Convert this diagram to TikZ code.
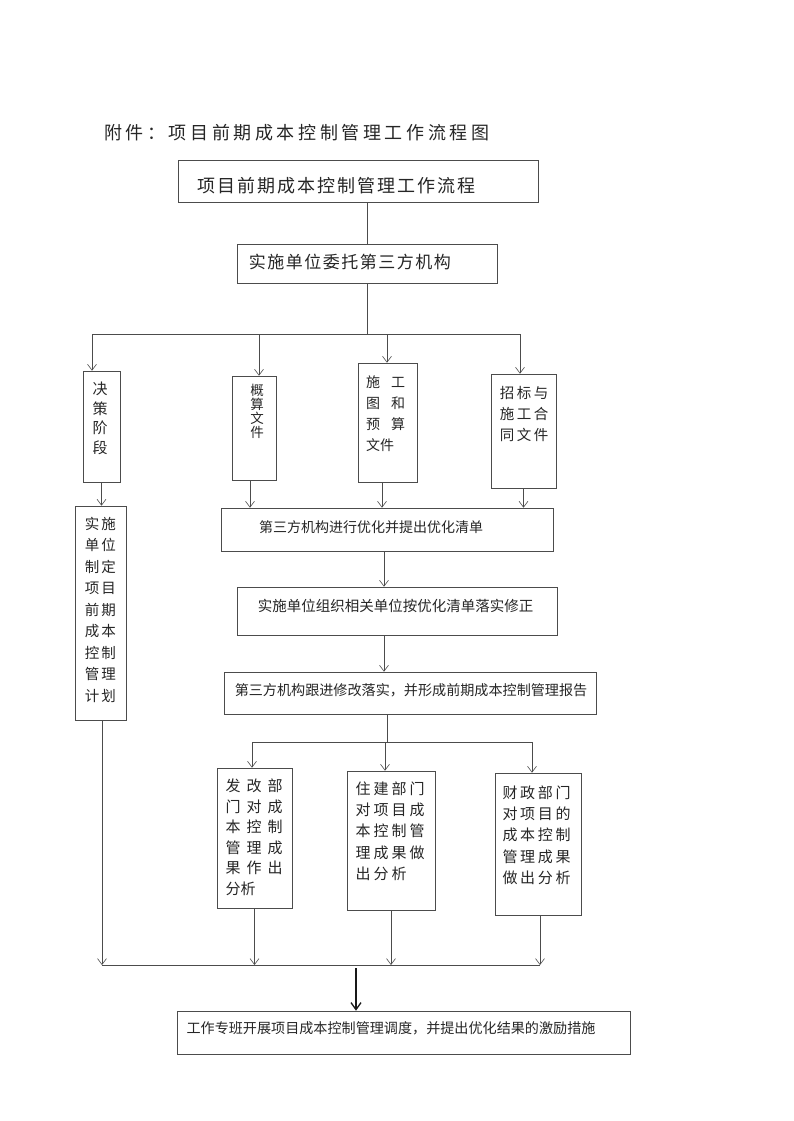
\documentclass[tikz,border=0pt]{standalone}
\usepackage{fontspec}
\setmainfont{Noto Sans CJK SC}
\usetikzlibrary{arrows.meta}
\newlength\cpitch
\newcommand\cb[1]{\makebox[\cpitch]{#1}}
\begin{document}
\begin{tikzpicture}[x=1pt,y=-1pt,
  box/.style={draw=black!70, line width=0.6pt, inner sep=0pt},
  ln/.style={draw=black!70, line width=0.6pt},
  arr/.style={draw=black!70, line width=0.6pt, -{Straight Barb[length=6pt,width=9pt]}},
  bigarr/.style={draw=black!90, line width=1.3pt, -{Straight Barb[length=7pt,width=10pt]}},
  txt/.style={inner sep=0pt, text=black!85, align=left}]
\fill[white] (0,0) rectangle (793,1121);
\useasboundingbox (0,0) rectangle (793,1121);

% title
\node[txt, anchor=west, font=\fontsize{18}{20}\selectfont] (title) at (102,133)
 {\global\cpitch=21.6pt\cb{附}\cb{件}\cb{：}\cb{项}\cb{目}\cb{前}\cb{期}\cb{成}\cb{本}\cb{控}\cb{制}\cb{管}\cb{理}\cb{工}\cb{作}\cb{流}\cb{程}\cb{图}};

% boxes
\node[box, minimum width=360pt, minimum height=42pt] (b1) at (358,181) {};
\node[box, minimum width=260pt, minimum height=39pt] (b2) at (367,263.5) {};
\node[box, minimum width=37pt, minimum height=111pt] (d1) at (101.5,426.5) {};
\node[box, minimum width=44pt, minimum height=104pt] (d2) at (254,428) {};
\node[box, minimum width=59pt, minimum height=119pt] (d3) at (387.5,422.5) {};
\node[box, minimum width=65pt, minimum height=114pt] (d4) at (523.5,431) {};
\node[box, minimum width=332pt, minimum height=43pt] (e1) at (387,529.5) {};
\node[box, minimum width=51pt, minimum height=214pt] (lp) at (100.5,613) {};
\node[box, minimum width=320pt, minimum height=48pt] (e2) at (397,611) {};
\node[box, minimum width=372pt, minimum height=42pt] (e3) at (410,693) {};
\node[box, minimum width=75pt, minimum height=140pt] (f1) at (254.5,838) {};
\node[box, minimum width=88pt, minimum height=139pt] (f2) at (391,840.5) {};
\node[box, minimum width=86pt, minimum height=142pt] (f3) at (538,844) {};
\node[box, minimum width=453pt, minimum height=43pt] (g) at (403.5,1032.5) {};

% texts
\node[txt, anchor=west, font=\fontsize{18}{20}\selectfont] (tb1) at (196,186)
 {\global\cpitch=20pt\cb{项}\cb{目}\cb{前}\cb{期}\cb{成}\cb{本}\cb{控}\cb{制}\cb{管}\cb{理}\cb{工}\cb{作}\cb{流}\cb{程}};
\node[txt, anchor=west, font=\fontsize{17}{19}\selectfont] (tb2) at (248,262)
 {\global\cpitch=18.5pt\cb{实}\cb{施}\cb{单}\cb{位}\cb{委}\cb{托}\cb{第}\cb{三}\cb{方}\cb{机}\cb{构}};
\node[txt, align=center, anchor=north, font=\fontsize{15}{19.7}\selectfont] (td1) at (100,381.7) {决\\策\\阶\\段};
\node[txt, align=center, anchor=north, font=\fontsize{13.5}{14}\selectfont] (td2) at (257,384.3) {概\\算\\文\\件};
\node[txt, anchor=north west, font=\fontsize{14}{21}\selectfont] (td3) at (360.5,376)
 {\global\cpitch=25pt\cb{施}\cb{工}\\\cb{图}\cb{和}\\\cb{预}\cb{算}\\\hspace*{5.5pt}文件};
\node[txt, anchor=north west, font=\fontsize{14.5}{21}\selectfont] (td4) at (498.5,385.9)
 {\global\cpitch=17pt\cb{招}\cb{标}\cb{与}\\\cb{施}\cb{工}\cb{合}\\\cb{同}\cb{文}\cb{件}};
\node[txt, font=\fontsize{14}{16}\selectfont] (te1) at (371,527) {第三方机构进行优化并提出优化清单};
\node[txt, anchor=north west, font=\fontsize{14.5}{21.5}\selectfont] (tlp) at (83.75,517)
 {\global\cpitch=16.5pt\cb{实}\cb{施}\\\cb{单}\cb{位}\\\cb{制}\cb{定}\\\cb{项}\cb{目}\\\cb{前}\cb{期}\\\cb{成}\cb{本}\\\cb{控}\cb{制}\\\cb{管}\cb{理}\\\cb{计}\cb{划}};
\node[txt, font=\fontsize{14.5}{16}\selectfont] (te2) at (395.5,606) {实施单位组织相关单位按优化清单落实修正};
\node[txt, font=\fontsize{14.1}{16}\selectfont] (te3) at (411,690) {第三方机构跟进修改落实，并形成前期成本控制管理报告};
\node[txt, anchor=north west, font=\fontsize{15}{20.6}\selectfont] (tf1) at (222.5,778.7)
 {\global\cpitch=21pt\cb{发}\cb{改}\cb{部}\\\cb{门}\cb{对}\cb{成}\\\cb{本}\cb{控}\cb{制}\\\cb{管}\cb{理}\cb{成}\\\cb{果}\cb{作}\cb{出}\\\hspace*{3pt}分析};
\node[txt, anchor=north west, font=\fontsize{15}{21.2}\selectfont] (tf2) at (354,781.7)
 {\global\cpitch=18pt\cb{住}\cb{建}\cb{部}\cb{门}\\\cb{对}\cb{项}\cb{目}\cb{成}\\\cb{本}\cb{控}\cb{制}\cb{管}\\\cb{理}\cb{成}\cb{果}\cb{做}\\\cb{出}\cb{分}\cb{析}};
\node[txt, anchor=north west, font=\fontsize{15}{21.2}\selectfont] (tf3) at (501,785.7)
 {\global\cpitch=17.7pt\cb{财}\cb{政}\cb{部}\cb{门}\\\cb{对}\cb{项}\cb{目}\cb{的}\\\cb{成}\cb{本}\cb{控}\cb{制}\\\cb{管}\cb{理}\cb{成}\cb{果}\\\cb{做}\cb{出}\cb{分}\cb{析}};
\node[txt, font=\fontsize{14.1}{16}\selectfont] (tg) at (391,1028) {工作专班开展项目成本控制管理调度，并提出优化结果的激励措施};

% connectors top
\draw[ln] (b2.north |- b1.south) -- (b2.north);
\coordinate (hL) at (92,334);
\coordinate (hR) at (520,334);
\coordinate (t2) at (259,334);
\coordinate (t3) at (387,334);
\draw[ln] (b2.south) -- (b2.south |- hL);
\draw[ln] (hL) -- (hR);
\draw[arr] (hL) -- (hL |- d1.north);
\draw[arr] (t2) -- (t2 |- d2.north);
\draw[arr] (t3) -- (t3 |- d3.north);
\draw[arr] (hR) -- (hR |- d4.north);

% to e1 and lp
\draw[arr] (d1.south) -- (d1.south |- lp.north);
\coordinate (a2) at ([xshift=-4pt]d2.south);
\coordinate (a3) at ([xshift=-5.5pt]d3.south);
\draw[arr] (a2) -- (a2 |- e1.north);
\draw[arr] (a3) -- (a3 |- e1.north);
\draw[arr] (d4.south) -- (d4.south |- e1.north);

% middle chain
\coordinate (a5) at ([xshift=-3pt]e1.south);
\draw[arr] (a5) -- (a5 |- e2.north);
\draw[arr] (a5 |- e2.south) -- (a5 |- e3.north);

% second bus
\coordinate (a7) at ([xshift=-23pt]e3.south);
\coordinate (mL) at (252,742);
\coordinate (mR) at (532,742);
\coordinate (m2) at (385,742);
\draw[ln] (a7) -- (a7 |- mL);
\draw[ln] (mL) -- (mR);
\draw[arr] (mL) -- (mL |- f1.north);
\draw[arr] (m2) -- (m2 |- f2.north);
\draw[arr] (mR) -- (mR |- f3.north);

% bottom bus
\coordinate (bL) at (102,965);
\coordinate (bR) at (540,965);
\coordinate (c1) at ([xshift=1.5pt]lp.south);
\coordinate (c4) at ([xshift=2pt]f3.south);
\draw[ln] (bL) -- (bR);
\draw[arr] (c1) -- (c1 |- bL);
\draw[arr] (f1.south) -- (f1.south |- bL);
\draw[arr] (f2.south) -- (f2.south |- bL);
\draw[arr] (c4) -- (c4 |- bL);
\coordinate (c5) at (356,968);
\draw[bigarr] (c5) -- (c5 |- g.north);
\end{tikzpicture}
\end{document}
